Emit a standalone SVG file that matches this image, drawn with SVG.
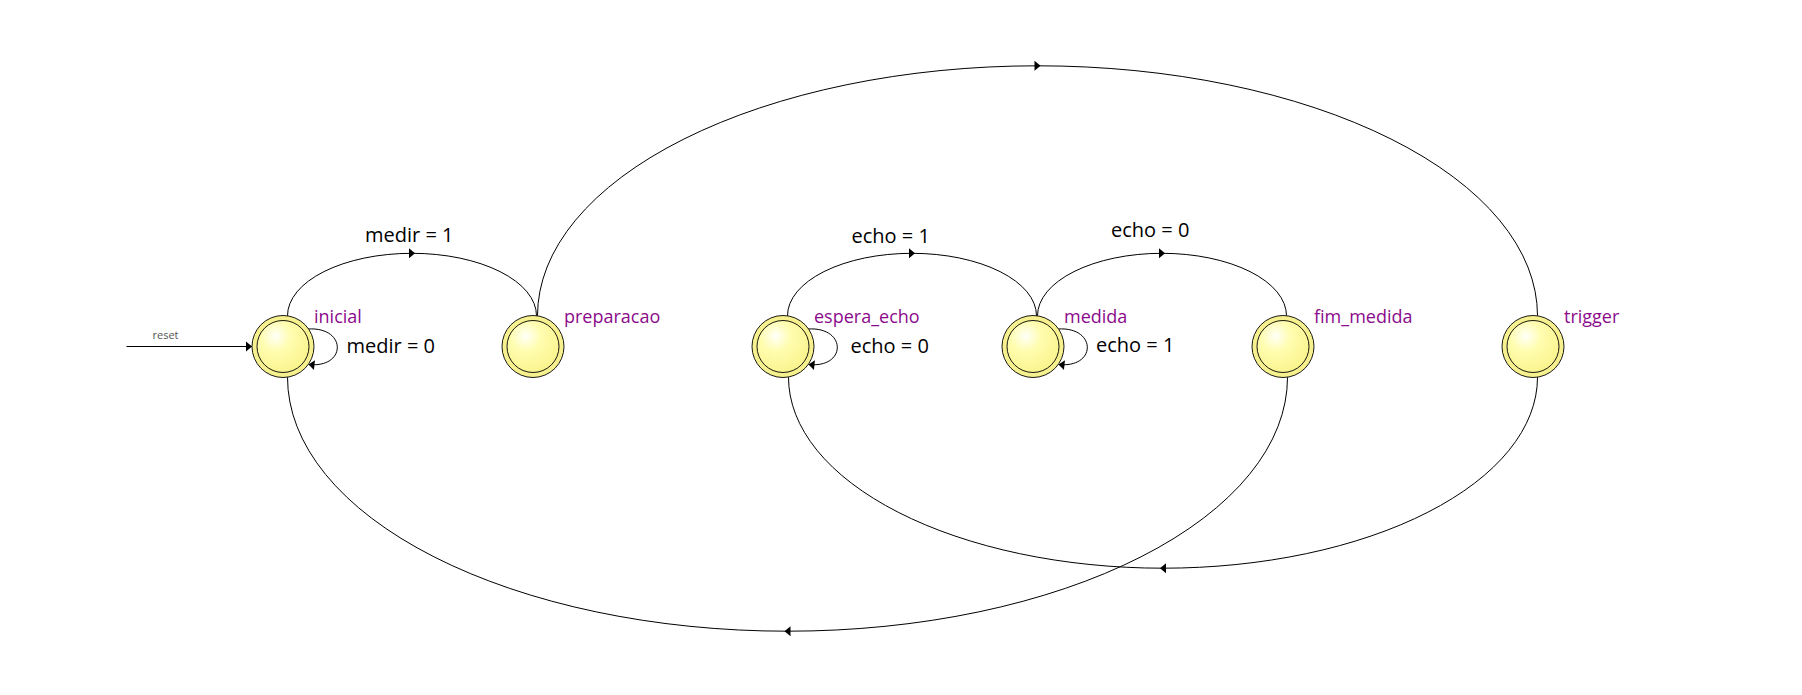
<svg xmlns="http://www.w3.org/2000/svg" width="1802" height="695" viewBox="0 0 1802 695">
<defs>
<radialGradient id="fillg" cx="36%" cy="30%" r="72%">
<stop offset="0%" stop-color="#FFFFF8"/>
<stop offset="40%" stop-color="#FFFDB0"/>
<stop offset="100%" stop-color="#FAF48E"/>
</radialGradient>
<marker id="mid" markerUnits="userSpaceOnUse" markerWidth="7" markerHeight="11" refX="3" refY="5" orient="auto" overflow="visible">
<path d="M0,0 L6,5 L0,10 Z" fill="#000"/>
</marker>
<marker id="end" markerUnits="userSpaceOnUse" markerWidth="7" markerHeight="11" refX="6" refY="5" orient="auto" overflow="visible">
<path d="M0,0 L6,5 L0,10 Z" fill="#000"/>
</marker>
</defs>
<style>
.ring{fill:#F7F08E;stroke:#000;stroke-width:0.9}
.core{fill:url(#fillg);stroke:#000;stroke-width:0.9}
.nl{font-family:"Open Sans","Noto Sans",sans-serif;font-size:18px;fill:#8B0A8B}
.el{font-family:"Open Sans","Noto Sans",sans-serif;font-size:20px;fill:#000}
.arc{fill:none;stroke:#000;stroke-width:1;marker-mid:url(#mid)}
.loop{fill:none;stroke:#000;stroke-width:1;marker-end:url(#end)}
</style>
<rect width="1802" height="695" fill="#fff"/>

<g id="connectors">
<line x1="126.5" y1="346.5" x2="252" y2="346.5" stroke="#000" stroke-width="1" marker-end="url(#end)"/>
<text x="152.5" y="338.5" font-family="Open Sans, Noto Sans, sans-serif" font-size="11" fill="#555">reset</text>
<path class="arc" d="M287.5,315.8 A124.5,62.5 0 0 1 412,253.3 A124.5,62.5 0 0 1 536.5,315.8"/>
<path class="arc" d="M787.5,315.8 A124.5,62.5 0 0 1 912,253.3 A124.5,62.5 0 0 1 1036.5,315.8"/>
<path class="arc" d="M1037.5,315.8 A124.5,62.5 0 0 1 1162,253.3 A124.5,62.5 0 0 1 1286.5,315.8"/>
<path class="arc" d="M537.5,315.8 A500,250 0 0 1 1037.5,65.8 A500,250 0 0 1 1537.5,315.8"/>
<path class="arc" d="M1537.5,377.2 A374.5,191 0 0 1 1163,568.2 A374.5,191 0 0 1 788.5,377.2"/>
<path class="arc" d="M1287.5,377.2 A500,254 0 0 1 787.5,631.2 A500,254 0 0 1 287.5,377.2"/>
<path class="loop" d="M308,329 C347,326.5 347,368.5 308.5,364.5"/>
<path class="loop" d="M808,329 C847,326.5 847,368.5 808.5,364.5"/>
<path class="loop" d="M1058,329 C1097,326.5 1097,368.5 1058.5,364.5"/>
<text class="el" x="365" y="241.7">medir = 1</text>
<text class="el" x="346.5" y="352.7">medir = 0</text>
<text class="el" x="851.5" y="243.3">echo = 1</text>
<text class="el" x="850.5" y="353.3">echo = 0</text>
<text class="el" x="1111" y="237.3">echo = 0</text>
<text class="el" x="1096" y="351.7">echo = 1</text>
</g>

<g id="inicial">
<circle class="ring" cx="283" cy="346.5" r="31"/>
<circle class="core" cx="283" cy="346.5" r="26"/>
<text class="nl" x="314" y="322.7">inicial</text>
</g>
<g id="preparacao">
<circle class="ring" cx="533" cy="346.5" r="31"/>
<circle class="core" cx="533" cy="346.5" r="26"/>
<text class="nl" x="564" y="322.7">preparacao</text>
</g>
<g id="espera_echo">
<circle class="ring" cx="783" cy="346.5" r="31"/>
<circle class="core" cx="783" cy="346.5" r="26"/>
<text class="nl" x="814" y="322.7">espera_echo</text>
</g>
<g id="medida">
<circle class="ring" cx="1033" cy="346.5" r="31"/>
<circle class="core" cx="1033" cy="346.5" r="26"/>
<text class="nl" x="1064" y="322.7">medida</text>
</g>
<g id="fim_medida">
<circle class="ring" cx="1283" cy="346.5" r="31"/>
<circle class="core" cx="1283" cy="346.5" r="26"/>
<text class="nl" x="1314" y="322.7">fim_medida</text>
</g>
<g id="trigger">
<circle class="ring" cx="1533" cy="346.5" r="31"/>
<circle class="core" cx="1533" cy="346.5" r="26"/>
<text class="nl" x="1564" y="322.7">trigger</text>
</g>
</svg>
